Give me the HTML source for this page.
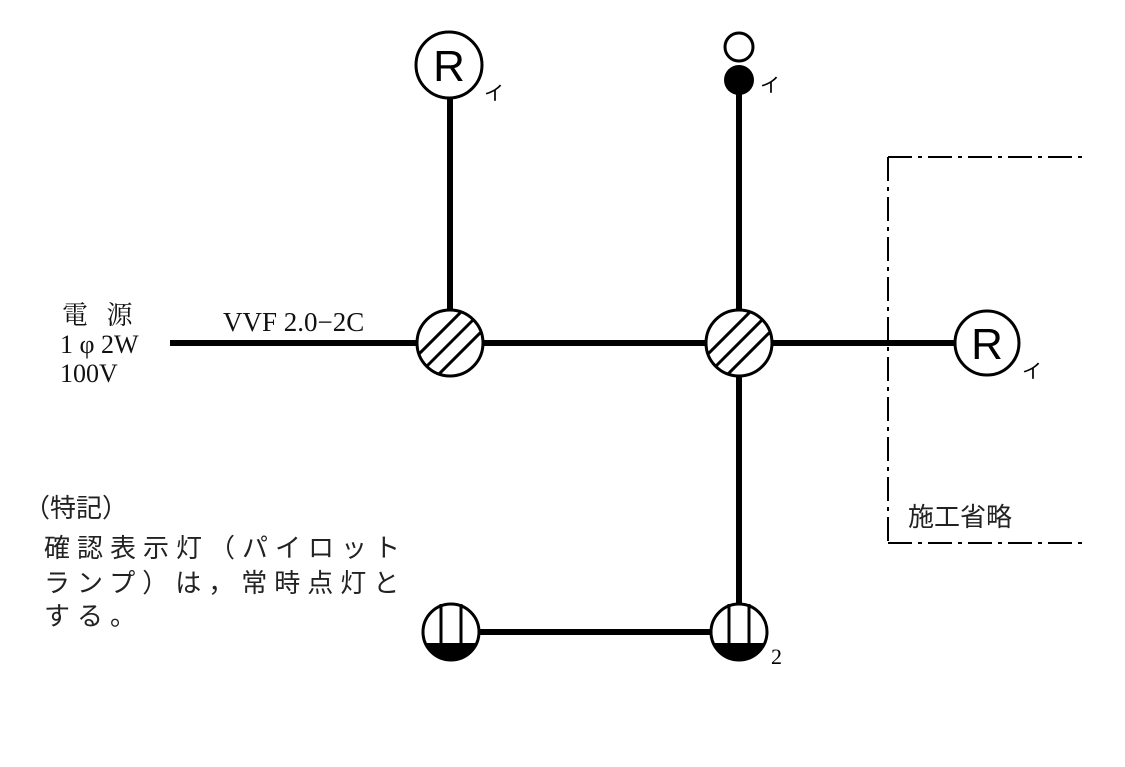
<!DOCTYPE html>
<html><head><meta charset="utf-8"><style>html,body{margin:0;padding:0;background:#fff}svg{display:block}</style></head><body>
<svg width="1125" height="767" viewBox="0 0 1125 767" xmlns="http://www.w3.org/2000/svg">
<defs>
<clipPath id="c1"><circle cx="450" cy="343" r="32"/></clipPath>
<clipPath id="c2"><circle cx="739" cy="343" r="32"/></clipPath>
<clipPath id="c3"><circle cx="451" cy="632" r="28"/></clipPath>
<clipPath id="c4"><circle cx="739" cy="632" r="28"/></clipPath>
</defs>
<g stroke="#000" stroke-width="6" fill="none">
<line x1="170" y1="343" x2="955" y2="343"/>
<line x1="450" y1="98" x2="450" y2="343"/>
<line x1="739" y1="90" x2="739" y2="604"/>
<line x1="451" y1="632" x2="739" y2="632"/>
</g>
<g stroke="#000" stroke-width="2" fill="none" stroke-dasharray="24,6,4,6">
<line x1="888" y1="157" x2="1088" y2="157"/>
<line x1="888" y1="157" x2="888" y2="545"/>
<line x1="888" y1="543" x2="1088" y2="543"/>
</g>
<circle cx="449" cy="65" r="33" fill="#fff" stroke="#000" stroke-width="3"/>
<text x="449" y="81" font-family="Liberation Sans, sans-serif" font-size="44" text-anchor="middle">R</text>
<text x="484" y="100" font-family="Liberation Sans, Noto Sans CJK JP, sans-serif" font-size="20">イ</text>
<circle cx="739" cy="47" r="14" fill="#fff" stroke="#000" stroke-width="3"/>
<circle cx="739" cy="80" r="15" fill="#000"/>
<text x="760" y="92" font-family="Liberation Sans, Noto Sans CJK JP, sans-serif" font-size="20">イ</text>
<circle cx="450" cy="343" r="33" fill="#fff"/>
<g clip-path="url(#c1)" stroke="#000" stroke-width="3">
<line x1="410" y1="363" x2="470" y2="303"/><line x1="420" y1="373" x2="480" y2="313"/><line x1="430" y1="383" x2="490" y2="323"/>
</g>
<circle cx="450" cy="343" r="33" fill="none" stroke="#000" stroke-width="3"/>
<circle cx="739" cy="343" r="33" fill="#fff"/>
<g clip-path="url(#c2)" stroke="#000" stroke-width="3">
<line x1="699" y1="363" x2="759" y2="303"/><line x1="709" y1="373" x2="769" y2="313"/><line x1="719" y1="383" x2="779" y2="323"/>
</g>
<circle cx="739" cy="343" r="33" fill="none" stroke="#000" stroke-width="3"/>
<circle cx="987" cy="343" r="32" fill="#fff" stroke="#000" stroke-width="3"/>
<text x="987" y="359" font-family="Liberation Sans, sans-serif" font-size="44" text-anchor="middle">R</text>
<text x="1022" y="378" font-family="Liberation Sans, Noto Sans CJK JP, sans-serif" font-size="20">イ</text>
<circle cx="451" cy="632" r="28" fill="#fff"/>
<g clip-path="url(#c3)"><rect x="420" y="643" width="62" height="20" fill="#000"/></g>
<circle cx="451" cy="632" r="28" fill="none" stroke="#000" stroke-width="3"/>
<g stroke="#000" stroke-width="3"><line x1="441" y1="604" x2="441" y2="645"/><line x1="461" y1="604" x2="461" y2="645"/></g>
<circle cx="739" cy="632" r="28" fill="#fff"/>
<g clip-path="url(#c4)"><rect x="708" y="643" width="62" height="20" fill="#000"/></g>
<circle cx="739" cy="632" r="28" fill="none" stroke="#000" stroke-width="3"/>
<g stroke="#000" stroke-width="3"><line x1="729" y1="604" x2="729" y2="645"/><line x1="749" y1="604" x2="749" y2="645"/></g>
<text x="771" y="664" font-family="Liberation Serif, serif" font-size="22">2</text>
<g font-family="Liberation Serif, Noto Serif CJK SC, serif" font-size="26" fill="#111">
<text x="62" y="324" letter-spacing="6">電 源</text>
<text x="60" y="353">1 φ 2W</text>
<text x="60" y="382">100V</text>
<text x="223" y="331" font-size="27">VVF 2.0−2C</text>
</g>
<g font-family="Liberation Sans, Noto Sans CJK JP, sans-serif" font-size="26" fill="#222">
<text x="24" y="517">（特記）</text>
<text x="44" y="557" letter-spacing="7">確認表示灯（パイロット</text>
<text x="44" y="592" letter-spacing="7">ランプ）は，常時点灯と</text>
<text x="44" y="625" letter-spacing="7">する。</text>
<text x="908" y="526">施工省略</text>
</g>
</svg>
</body></html>
